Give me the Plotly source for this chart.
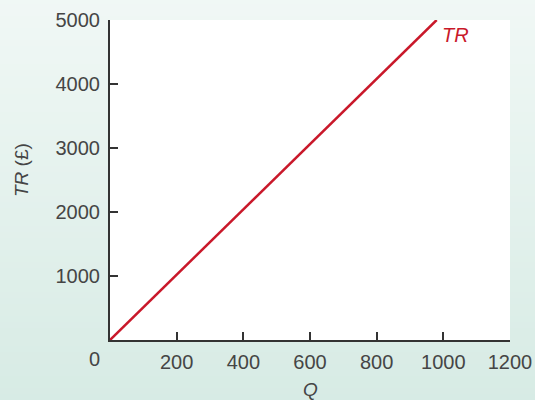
import plotly.graph_objects as go

# Total revenue schedule
quantity = [0, 980]
total_revenue = [0, 5000]

x_ticks = [200, 400, 600, 800, 1000, 1200]
y_ticks = [1000, 2000, 3000, 4000, 5000]

W, H = 535, 400
FONT = "Liberation Sans"
FS = 20
TEXT = "#454545"
RED = "#c9182a"
AXIS = "#333333"

fig = go.Figure()
fig.add_trace(go.Scatter(
    x=quantity, y=total_revenue, mode="lines",
    line=dict(color=RED, width=2.5),
    hoverinfo="skip", showlegend=False, cliponaxis=False,
))

# soft vertical gradient behind the chart, built from thin strips
top_rgb = (243, 249, 247)
bot_rgb = (213, 234, 227)
n = 80
shapes = []
for i in range(n):
    t = i / (n - 1)
    c = tuple(round(top_rgb[k] + (bot_rgb[k] - top_rgb[k]) * t) for k in range(3))
    shapes.append(dict(
        type="rect", xref="paper", yref="paper", layer="below",
        x0=-0.5, x1=1.5,
        y0=1.2 - (i / n) * 1.5, y1=1.2 - ((i + 1) / n) * 1.5 - 0.01,
        fillcolor="rgb(%d,%d,%d)" % c, line=dict(width=0),
    ))
# white plotting area on top of the gradient
shapes.append(dict(
    type="rect", xref="x domain", yref="y domain", layer="below",
    x0=0, x1=1, y0=0, y1=1, fillcolor="white", line=dict(width=0),
))

fig.update_layout(
    width=W, height=H,
    margin=dict(l=110, r=25, t=20, b=60, pad=0),
    paper_bgcolor="rgb(228,241,237)",
    plot_bgcolor="white",
    font=dict(family=FONT, size=FS, color=TEXT),
    shapes=shapes,
    xaxis=dict(
        range=[0, 1200], tickvals=x_ticks, ticks="inside", ticklen=8,
        tickwidth=1.5, tickcolor=AXIS, showline=True, linecolor=AXIS,
        linewidth=2, showgrid=False, zeroline=False, fixedrange=True,
        ticklabelstandoff=3, automargin=False,
    ),
    yaxis=dict(
        range=[0, 5000], tickvals=y_ticks, ticks="inside", ticklen=8,
        tickwidth=1.5, tickcolor=AXIS, showline=True, linecolor=AXIS,
        linewidth=2, showgrid=False, zeroline=False, fixedrange=True,
        ticklabelstandoff=4, automargin=False,
    ),
    annotations=[
        dict(text="0", x=0, y=0, xref="x", yref="y", xshift=-16, yshift=-19,
             showarrow=False, font=dict(size=FS, color=TEXT)),
        dict(text="<i>Q</i>", x=600, y=0, xref="x", yref="y", yshift=-49,
             showarrow=False, font=dict(size=FS - 1, color=TEXT)),
        dict(text="<i>TR</i> (£)", x=0, y=0.5, xref="paper", yref="paper",
             xanchor="center", yanchor="middle",
             xshift=-89, yshift=10, textangle=-90,
             showarrow=False, font=dict(size=FS - 1, color=TEXT)),
        dict(text="<i>TR</i>", x=980, y=5000, xref="x", yref="y",
             xanchor="center", yanchor="middle",
             xshift=19, yshift=-15, showarrow=False,
             font=dict(size=FS, color=RED)),
    ],
)

fig.write_html("out.html")
